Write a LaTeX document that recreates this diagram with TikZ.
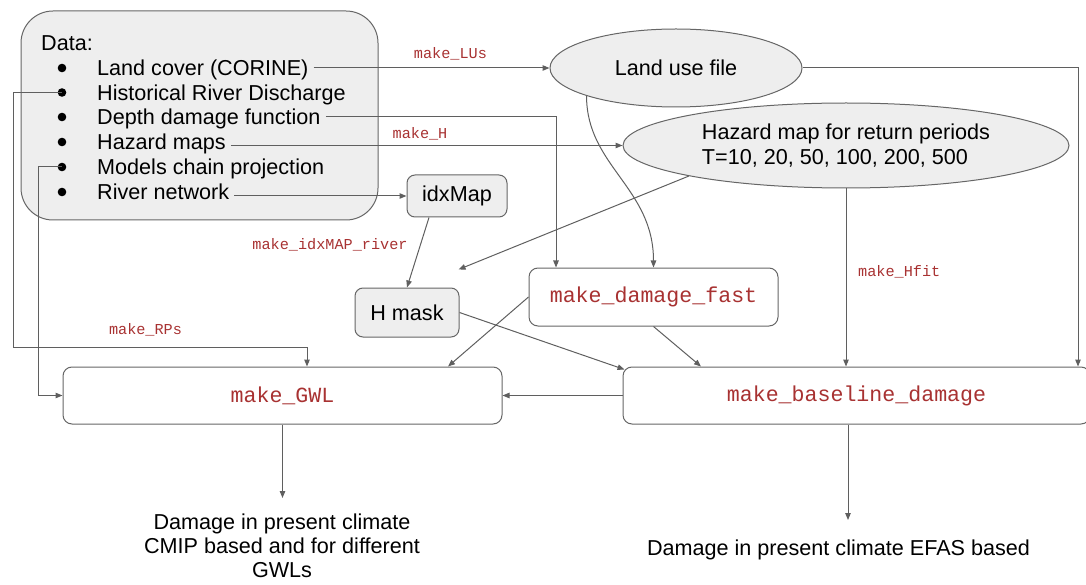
\documentclass[tikz,border=0pt]{standalone}
\usepackage{fontspec}
\setmainfont{Liberation Sans}
\setmonofont{Liberation Mono}
\usetikzlibrary{shapes.geometric,arrows.meta,calc}
\definecolor{ln}{HTML}{5F5F5F}
\definecolor{bd}{HTML}{666666}
\definecolor{fl}{HTML}{EEEEEE}
\definecolor{cr}{HTML}{A83232}
\begin{document}
\begin{tikzpicture}[x=1pt,y=-1pt,
  arr/.style={draw=ln, line width=1pt, -{Triangle[length=7pt,width=5.5pt]}},
  big/.style={font=\fontsize{21.6}{24.8}\selectfont},
  itm/.style={big, inner sep=0pt, anchor=west, text height=15.5pt, text depth=0pt},
  code/.style={font=\fontsize{21.6}{24.8}\selectfont\ttfamily, text=cr},
  lbl/.style={font=\fontsize{15.2}{17}\selectfont\ttfamily, text=cr, inner sep=0pt},
  gbox/.style={draw=bd, line width=1pt, fill=fl, rounded corners=8pt, inner sep=0pt, big},
  wbox/.style={draw=bd, line width=1pt, fill=white, rounded corners=9pt, inner sep=0pt, code},
  ell/.style={ellipse, draw=bd, line width=1pt, fill=fl, inner sep=0pt, big},
  bul/.style={circle, fill=black, inner sep=0pt, minimum size=8.6pt}
]
\useasboundingbox (0,0) rectangle (1086,585);

% data box
\node[draw=bd, line width=1pt, fill=fl, rounded corners=32pt, minimum width=357pt, minimum height=209pt, inner sep=0pt] (data) at (199.5,115.5) {};
\node[itm] (dt) at (41,43) {Data:};
\node[itm] (t1) at (97,68) {Land cover (CORINE)};
\node[itm] (t2) at (97,92.5) {Historical River Discharge};
\node[itm] (t3) at (97,117) {Depth damage function};
\node[itm] (t4) at (97,142) {Hazard maps};
\node[itm] (t5) at (97,167) {Models chain projection};
\node[itm] (t6) at (97,192) {River network};
\node[bul] (b1) at (62,68) {};
\node[bul] (b2) at (62,92.5) {};
\node[bul] (b3) at (62,117) {};
\node[bul] (b4) at (62,142) {};
\node[bul] (b5) at (62,167) {};
\node[bul] (b6) at (62,192) {};

% nodes
\node[ell, minimum width=252pt, minimum height=78pt] (lu) at (676,68) {Land use file};
\node[ell, minimum width=446pt, minimum height=85pt, align=left, font=\fontsize{21.6}{25.5}\selectfont] (hz) at (846,145.5) {Hazard map for return periods\\T=10, 20, 50, 100, 200, 500};
\node[gbox, minimum width=100pt, minimum height=42pt] (idx) at (457,196) {idxMap};
\node[gbox, minimum width=104pt, minimum height=49pt] (hm) at (407,312.5) {H mask};
\node[wbox, minimum width=249pt, minimum height=58pt] (df) at (653.5,297) {make\_damage\_fast};
\node[wbox, minimum width=439pt, minimum height=57pt] (gwl) at (282.5,395.5) {make\_GWL};
\node[wbox, minimum width=467pt, minimum height=57pt] (bl) at (856.5,395.5) {make\_baseline\_damage};
\node[big, align=center, inner sep=0pt, font=\fontsize{21.6}{24}\selectfont] (r1) at (282,546) {Damage in present climate\\CMIP based and for different\\GWLs};
\node[big, inner sep=0pt] (r2) at (838.5,550) {Damage in present climate EFAS based};
\coordinate (e1) at (282.5,498);
\coordinate (e2) at (848,520);

% connectors from data
\draw[arr] ([xshift=5pt]t1.east |- lu.west) -- (lu.west)
  node[lbl, pos=0.58, above=7pt] {make\_LUs};
\draw[arr] (b2.center) -| (13,347) -| ([xshift=24.5pt]gwl.north);
\node[lbl] at (145.5,330) {make\_RPs};
\draw[arr] (b5.center) -| ([xshift=-24pt]gwl.west) -- (gwl.west);
\draw[arr] ([xshift=5pt]t3.east) -| ([xshift=-97.5pt]df.north);
\draw[arr] ([xshift=5pt]t4.east |- hz.west) -- (hz.west);
\node[lbl] at (420,134) {make\_H};
\draw[arr] ([xshift=5pt]t6.east |- idx.west) -- (idx.west);

% other connectors
\draw[arr] (lu.east) -| ([xshift=221.5pt]bl.north);
\draw[arr] (lu.south west) .. controls +(0,70) and +(0,-80) .. (df.north);
\draw[arr] (hz.191) -- ([shift={(-1,-18)}]hm.north east);
\draw[arr] ([xshift=-28pt]idx.south) -- (hm.north);
\node[lbl] at (330,245) {make\_idxMAP\_river};
\draw[arr] (hz.south) -- (hz.south |- bl.north);
\node[lbl, anchor=west] at (858,272) {make\_Hfit};
\draw[arr] (hm.east) -- ([shift={(2,3)}]bl.north west);
\draw[arr] (df.west) -- ([xshift=165.5pt]gwl.north);
\draw[arr] (df.south) -- ([xshift=-155.5pt]bl.north);
\draw[arr] (bl.west) -- (gwl.east);
\draw[arr] (gwl.south) -- (e1);
\draw[arr] ([xshift=-8.5pt]bl.south) -- (e2);
\end{tikzpicture}
\end{document}
